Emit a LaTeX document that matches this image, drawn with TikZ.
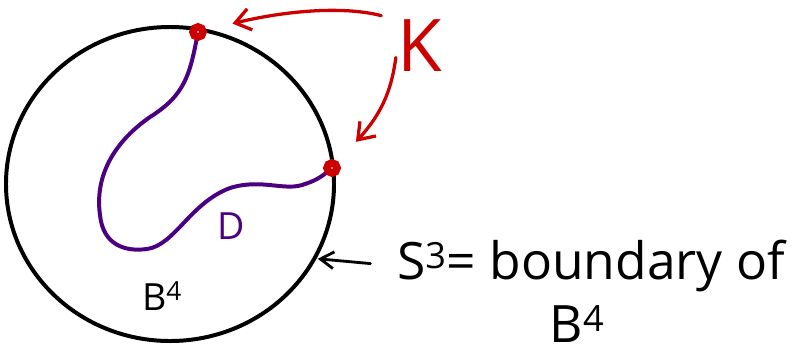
\documentclass[tikz,border=0pt]{standalone}
\usepackage{fontspec}
\setmainfont{Open Sans}
\usetikzlibrary{arrows.meta, positioning, shapes.geometric}
\definecolor{knotred}{HTML}{CC0000}
\definecolor{diskpurple}{HTML}{4B0082}
\tikzstyle{ball} = [ellipse, draw=black, line width=3.4pt, minimum width=9.84cm, minimum height=9.42cm, inner sep=0pt]
\tikzstyle{knotdot} = [circle, draw=knotred, line width=6.5pt, minimum size=3mm, inner sep=0pt, fill=white]
\tikzstyle{karrow} = [-{Straight Barb[length=4.5mm, width=6.5mm]}, line width=2.8pt, color=knotred, line cap=round]

\begin{document}
\begin{tikzpicture}[
    x=0.03cm, y=-0.03cm,
    disk/.style={line width=3.4pt, color=diskpurple, line cap=round},
    sarrow/.style={-{Straight Barb[length=4mm, width=5mm]}, line width=2.4pt, line cap=round},
    lbl/.style={inner sep=0pt, font=\fontsize{44}{52}\selectfont}
  ]
    \useasboundingbox (0,0) rectangle (794,357);

    % the 4-ball and its boundary
    \node[ball] (ball) at (170,184) {};
    \node[lbl, font=\fontsize{32}{36}\selectfont] (b4) at (162,296) {B\textsuperscript{4}};

    % the disk D
    \draw[disk] (198,32) .. controls (190,75) and (185,95) .. (150,117)
      .. controls (110,145) and (95,180) .. (100,215)
      .. controls (103,245) and (125,252) .. (147,249)
      .. controls (175,245) and (190,203) .. (230,188)
      .. controls (262,178) and (285,192) .. (305,184)
      .. controls (318,180) and (325,174) .. (332,168);
    \node[lbl, font=\fontsize{32}{36}\selectfont, text=diskpurple] (dlabel) at (231,226) {D};

    % knot points on the boundary
    \node[knotdot] (k1) at (198,32) {};
    \node[knotdot] (k2) at (332,168) {};

    % K and its arrows
    \node[lbl, font=\fontsize{62}{62}\selectfont, text=knotred] (K) at (420,46) {K};
    \draw[karrow, shorten <=5mm, shorten >=8mm] (K.north west) .. controls (340,5) and (280,12) .. (k1);
    \draw[karrow, shorten <=3.5mm, shorten >=8mm] (K.west) .. controls (392,85) and (385,110) .. (k2);

    % S^3 label
    \node[lbl] (s3) at (591,266) {S\textsuperscript{3}= boundary of};
    \node[lbl] (s3b) at (577,324) {B\textsuperscript{4}};
    \draw[sarrow, shorten <=8mm, shorten >=1pt] (s3.west) -- (ball.-27);
  \end{tikzpicture}
\end{document}
